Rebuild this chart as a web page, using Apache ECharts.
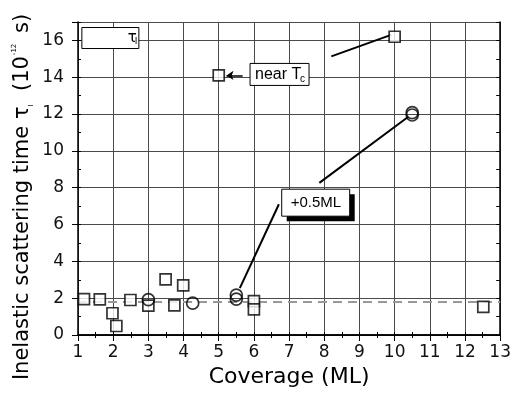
<!DOCTYPE html>
<html>
<head>
<meta charset="utf-8">
<script src="https://cdn.jsdelivr.net/npm/echarts@6/dist/echarts.min.js"></script>
<style>
  html, body { margin: 0; background: #fff; }
  #chart { width: 514px; height: 393px; }
</style>
</head>
<body>
<div id="chart"></div>
<script>
// squares (tau_I)
var squareX = [1.17, 1.62, 1.98, 2.09, 2.49, 3.0, 3.49, 3.74, 3.99, 5.0, 6.0, 6.0, 10.0, 12.52];
var squareY = [1.95, 1.94, 1.18, 0.49, 1.90, 1.60, 3.02, 1.61, 2.70, 14.1, 1.84, 1.39, 16.2, 1.53];
// circles (+0.5ML)
var circleX = [3.0, 4.26, 5.5, 5.5, 10.5, 10.5];
var circleY = [1.92, 1.73, 2.17, 1.95, 12.08, 11.95];
var baseline = 1.78;

// annotation lines, data coords
var nearLine = [[8.2, 15.13], [9.9, 16.3]];
var nearArrow = [[5.68, 14.1], [5.22, 14.1]];
var halfLines = [
  [[7.86, 8.26], [10.38, 11.84]],
  [[6.71, 7.1], [5.6, 2.55]]
];
// box top-left corners, data coords
var legendBoxAt = [1.11, 16.7];
var nearBoxAt = [5.89, 14.75];
var halfBoxAt = [6.79, 7.92];

var FONT = 'DejaVu Sans';
var myChart = echarts.init(document.getElementById('chart'));

function pairs(xs, ys) {
  var out = [];
  for (var i = 0; i < xs.length; i++) out.push([xs[i], ys[i]]);
  return out;
}
function seg(a, b) {
  return [{ coord: a }, { coord: b }];
}

var option = {
  animation: false,
  grid: { left: 78, right: 11, top: 22, bottom: 58 },
  xAxis: [
    {
      type: 'value', position: 'bottom', min: 1, max: 13, interval: 1,
      name: 'Coverage (ML)', nameLocation: 'middle', nameGap: 31,
      nameTextStyle: { fontFamily: FONT, fontSize: 22, color: '#000' },
      axisLine: { lineStyle: { color: '#000', width: 1.5 } },
      axisTick: { inside: false, length: 6, lineStyle: { color: '#000' } },
      axisLabel: { fontFamily: FONT, fontSize: 17, color: '#111', margin: 9 },
      splitLine: { show: true, lineStyle: { color: '#4a4a4a', width: 1 } }
    },
    {
      type: 'value', position: 'top', min: 1, max: 13, interval: 1,
      axisLine: { lineStyle: { color: '#000', width: 1.5 } },
      axisTick: { inside: true, length: 5, lineStyle: { color: '#000' } },
      minorTick: { show: true, splitNumber: 2, length: 3, lineStyle: { color: '#000' } },
      axisLabel: { show: false },
      splitLine: { show: false }
    },
    {
      type: 'value', position: 'bottom', min: 1, max: 13, interval: 0.5,
      axisLine: { show: false },
      axisTick: { inside: true, length: 3, lineStyle: { color: '#000' } },
      axisLabel: { show: false },
      splitLine: { show: false }
    }
  ],
  yAxis: [
    {
      type: 'value', position: 'left', min: 0, max: 17, interval: 2,
      axisLine: { lineStyle: { color: '#000', width: 1.5 } },
      axisTick: { inside: false, length: 6, lineStyle: { color: '#000' } },
      axisLabel: {
        fontFamily: FONT, fontSize: 17, color: '#111', margin: 14,
        formatter: function (v) { return v % 2 === 0 ? String(v) : ''; }
      },
      splitLine: { show: true, lineStyle: { color: '#4a4a4a', width: 1 } }
    },
    {
      type: 'value', position: 'right', min: 0, max: 17, interval: 1,
      axisLine: { lineStyle: { color: '#000', width: 1.5 } },
      axisTick: { inside: true, length: 4, lineStyle: { color: '#000' } },
      axisLabel: { show: false },
      splitLine: { show: false }
    },
    {
      type: 'value', position: 'left', min: 0, max: 17, interval: 1,
      axisLine: { show: false },
      axisTick: { inside: true, length: 3, lineStyle: { color: '#000' } },
      axisLabel: { show: false },
      splitLine: { show: false }
    }
  ],
  series: [
    {
      name: 'tauI', type: 'scatter', symbol: 'rect', symbolSize: 11,
      itemStyle: { color: '#fff', borderColor: '#000', borderWidth: 1.7 },
      data: pairs(squareX, squareY),
      z: 5,
      markLine: {
        silent: true, symbol: ['none', 'none'],
        label: { show: false },
        lineStyle: { color: '#999', width: 2, type: [9, 6] },
        data: [{ yAxis: baseline }]
      }
    },
    {
      name: 'half', type: 'scatter', symbol: 'circle', symbolSize: 12,
      itemStyle: { color: 'rgba(255,255,255,0)', borderColor: '#000', borderWidth: 1.7 },
      data: pairs(circleX, circleY),
      z: 6
    },
    {
      name: 'notes', type: 'line', data: [],
      markLine: {
        silent: true, symbol: ['none', 'none'],
        label: { show: false },
        lineStyle: { color: '#000', width: 2, type: 'solid' },
        data: [
          seg(nearLine[0], nearLine[1]),
          seg(halfLines[0][0], halfLines[0][1]),
          seg(halfLines[1][0], halfLines[1][1])
        ]
      }
    },
    {
      name: 'arrow', type: 'line', data: [],
      markLine: {
        silent: true, symbol: ['none', 'arrow'], symbolSize: 7,
        label: { show: false },
        lineStyle: { color: '#000', width: 1.5, type: 'solid' },
        data: [seg(nearArrow[0], nearArrow[1])]
      }
    }
  ]
};
myChart.setOption(option);

function px(p) {
  return myChart.convertToPixel({ xAxisIndex: 0, yAxisIndex: 0 }, p);
}
var lp = px(legendBoxAt), np = px(nearBoxAt), hp = px(halfBoxAt);

myChart.setOption({
  graphic: [
    // legend box
    { type: 'rect', x: lp[0], y: lp[1], z: 20, shape: { x: 0, y: 0, width: 57, height: 21 },
      style: { fill: '#fff', stroke: '#000', lineWidth: 1 } },
    { type: 'text', x: lp[0] + 46, y: lp[1] + 3, z: 21,
      style: { text: 'τ', fontFamily: FONT, fontSize: 15, fill: '#000' } },
    { type: 'text', x: lp[0] + 53, y: lp[1] + 10, z: 21,
      style: { text: 'I', fontFamily: FONT, fontSize: 9, fill: '#000' } },
    // near Tc box
    { type: 'rect', x: np[0], y: np[1], z: 20, shape: { x: 0, y: 0, width: 59, height: 22 },
      style: { fill: '#fff', stroke: '#000', lineWidth: 1 } },
    { type: 'text', x: np[0] + 5, y: np[1] + 3, z: 21,
      style: { text: 'near T', fontFamily: 'Liberation Sans', fontSize: 16, fill: '#000' } },
    { type: 'text', x: np[0] + 50, y: np[1] + 11, z: 21,
      style: { text: 'c', fontFamily: 'Liberation Sans', fontSize: 10, fill: '#000' } },
    // +0.5ML box with hard shadow
    { type: 'rect', x: hp[0] + 5, y: hp[1] + 5, z: 19, shape: { x: 0, y: 0, width: 68, height: 27 },
      style: { fill: '#000' } },
    { type: 'rect', x: hp[0], y: hp[1], z: 20, shape: { x: 0, y: 0, width: 68, height: 27 },
      style: { fill: '#fff', stroke: '#000', lineWidth: 1 } },
    { type: 'text', x: hp[0] + 9, y: hp[1] + 6, z: 21,
      style: { text: '+0.5ML', fontFamily: 'Liberation Sans', fontSize: 15, fill: '#000' } },
    // y axis title
    {
      type: 'text', x: 23, y: 197, rotation: Math.PI / 2, z: 20,
      style: {
        text: 'Inelastic scattering time τ{s|I}  (10{p|-12} s)',
        fontFamily: FONT, fontSize: 21, lineHeight: 24, fill: '#000',
        align: 'center', verticalAlign: 'middle',
        rich: {
          s: { fontFamily: FONT, fontSize: 7, lineHeight: 7, verticalAlign: 'bottom' },
          p: { fontFamily: FONT, fontSize: 7, lineHeight: 7, verticalAlign: 'top', padding: [0, 4, 0, 1] }
        }
      }
    }
  ]
});
</script>
</body>
</html>
